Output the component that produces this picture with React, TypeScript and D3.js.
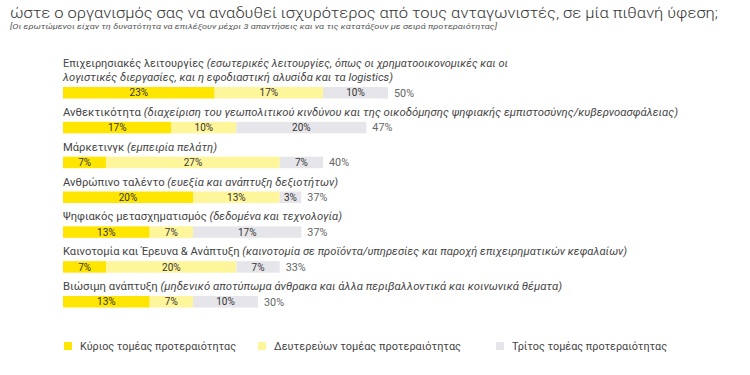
import * as d3 from 'd3';

const title = 'ώστε ο οργανισμός σας να αναδυθεί ισχυρότερος από τους ανταγωνιστές, σε μία πιθανή ύφεση;';
const subtitle = '[Οι ερωτώμενοι είχαν τη δυνατότητα να επιλέξουν μέχρι 3 απαντήσεις και να τις κατατάξουν με σειρά προτεραιότητας]';

const categories = [
  'Επιχειρησιακές λειτουργίες',
  'Ανθεκτικότητα',
  'Μάρκετινγκ',
  'Ανθρώπινο ταλέντο',
  'Ψηφιακός μετασχηματισμός',
  'Καινοτομία και Έρευνα & Ανάπτυξη',
  'Βιώσιμη ανάπτυξη',
];

// parenthetical part of each label; a second entry wraps onto a new line
const details: string[][] = [
  ['(εσωτερικές λειτουργίες, όπως οι χρηματοοικονομικές και οι', 'λογιστικές διεργασίες, και η εφοδιαστική αλυσίδα και τα logistics)'],
  ['(διαχείριση του γεωπολιτικού κινδύνου και της οικοδόμησης ψηφιακής εμπιστοσύνης/κυβερνοασφάλειας)'],
  ['(εμπειρία πελάτη)'],
  ['(ευεξία και ανάπτυξη δεξιοτήτων)'],
  ['(δεδομένα και τεχνολογία)'],
  ['(καινοτομία σε προϊόντα/υπηρεσίες και παροχή επιχειρηματικών κεφαλαίων)'],
  ['(μηδενικό αποτύπωμα άνθρακα και άλλα περιβαλλοντικά και κοινωνικά θέματα)'],
];

// shares in %, the labels show them rounded
const primary = [23.33, 16.67, 6.67, 20, 13.33, 6.67, 13.33];
const secondary = [16.67, 10, 26.67, 13.33, 6.67, 20, 6.67];
const tertiary = [10, 20, 6.67, 3.33, 16.67, 6.67, 10];
const totals = [50, 46.67, 40, 36.67, 36.67, 33.33, 30];

const seriesNames = ['Κύριος τομέας προτεραιότητας', 'Δευτερεύων τομέας προτεραιότητας', 'Τρίτος τομέας προτεραιότητας'];

// layout
const colors = ['#ffe600', '#fff59b', '#e6e6ea'];
const labelWidths = [[445, 330], [615], [154], [275], [279], [564], [499]];
const legendX = [64, 258, 496];
const legendWidths = [156, 187, 155];

const width = 750;
const height = 375;
const font = 'Roboto, "Liberation Sans", sans-serif';
const left = 63;

export default function App() {
  const x = d3.scaleLinear().domain([0, 50]).range([left, left + 325]);
  const y = d3.scalePoint<string>().domain(categories).range([87, 296]);
  const barH = 11.5;

  const rows = categories.map((c, i) => ({ c, i, vals: [primary[i], secondary[i], tertiary[i]] }));

  return (
    <svg width={width} height={height} style={{ position: 'absolute', left: 0, top: 0, background: '#fff' }}>
      <text x={10} y={18} fontFamily={font} fontSize={15.5} fontWeight={300} fill="#333" textLength={708} lengthAdjust="spacingAndGlyphs">
        {title}
      </text>
      <text x={10} y={29} fontFamily={font} fontSize={8} fontStyle="italic" fill="#555" textLength={487} lengthAdjust="spacingAndGlyphs">
        {subtitle}
      </text>

      {rows.map(({ c, i, vals }) => {
        const top = y(c)!;
        const stack = d3.cumsum(vals);
        const lines = details[i];
        const labelY = top - 6 - (lines.length - 1) * 14;
        return (
          <g key={c}>
            <text x={left} y={labelY} fontFamily={font} fontSize={10.8} fill="#444" textLength={labelWidths[i][0]} lengthAdjust="spacingAndGlyphs">
              <tspan>{c} </tspan>
              <tspan fontStyle="italic">{lines[0]}</tspan>
            </text>
            {lines.slice(1).map((l, k) => (
              <text key={k} x={left} y={labelY + 14 * (k + 1)} fontFamily={font} fontSize={10.8} fontStyle="italic" fill="#444" textLength={labelWidths[i][k + 1]} lengthAdjust="spacingAndGlyphs">
                {l}
              </text>
            ))}
            {vals.map((v, k) => {
              const x0 = x(stack[k] - v);
              const x1 = x(stack[k]);
              return (
                <g key={k}>
                  <rect x={x0} y={top} width={x1 - x0} height={barH} fill={colors[k]} />
                  <text x={(x0 + x1) / 2} y={top + barH / 2} dy="0.36em" textAnchor="middle" fontFamily={font} fontSize={10} fill="#333">
                    {Math.round(v)}%
                  </text>
                </g>
              );
            })}
            <text x={x(totals[i]) + 6} y={top + barH / 2} dy="0.36em" fontFamily={font} fontSize={10.8} fill="#666">
              {Math.round(totals[i])}%
            </text>
          </g>
        );
      })}

      {seriesNames.map((s, k) => (
        <g key={s}>
          <rect x={legendX[k]} y={342} width={8} height={8} fill={colors[k]} />
          <text x={legendX[k] + 16} y={346} dy="0.36em" fontFamily={font} fontSize={11} fill="#444" textLength={legendWidths[k]} lengthAdjust="spacingAndGlyphs">
            {s}
          </text>
        </g>
      ))}
    </svg>
  );
}
